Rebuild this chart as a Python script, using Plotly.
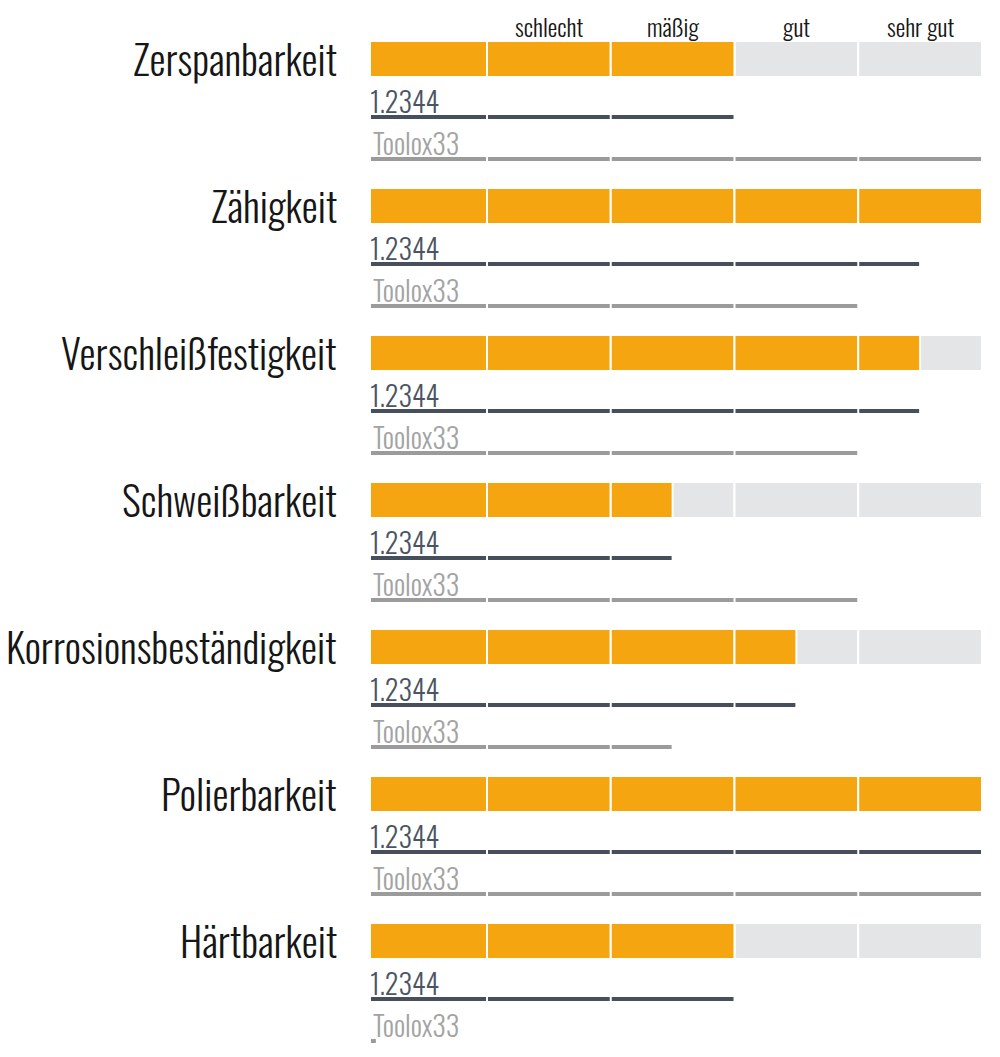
import plotly.graph_objects as go

properties = ["Zerspanbarkeit", "Zähigkeit", "Verschleißfestigkeit", "Schweißbarkeit",
              "Korrosionsbeständigkeit", "Polierbarkeit", "Härtbarkeit"]
rating_main = [3, 5, 4.5, 2.5, 3.5, 5, 3]
rating_12344 = [3, 4.5, 4.5, 2.5, 3.5, 5, 3]
rating_toolox = [5, 4, 4, 4, 2.5, 5, 0.11]
scale_labels = ["schlecht", "mäßig", "gut", "sehr gut"]
series_names = ["1.2344", "Toolox33"]

FONT = "Oswald, Roboto Condensed, sans-serif"
ORANGE = "#f5a50f"
BG = "#e4e5e6"
DARK = "#464f5b"
GREY = "#9b9b9b"
NSEG = 5
PX_X = 123.75   # pixels per unit
PX_Y = 147.0    # pixels per row
X0 = 1 - 116 / PX_X

off_line1 = 58 / PX_Y
off_line2 = 100 / PX_Y
gap = 2 / PX_X

fig = go.Figure()

for vals, color, name in [([NSEG] * len(properties), BG, "bg"), (rating_main, ORANGE, "main")]:
    ys, xs, bases = [], [], []
    for i, v in enumerate(vals):
        for k in range(NSEG):
            if v > k:
                ys.append(i)
                bases.append(k)
                xs.append(min(v, k + 1) - k)
    fig.add_trace(go.Bar(y=ys, x=xs, base=bases, orientation="h", width=36 / PX_Y,
                         marker=dict(color=color, line=dict(color="white", width=2)),
                         showlegend=False, hoverinfo="skip", name=name))

for vals, off, color in [(rating_12344, off_line1, DARK), (rating_toolox, off_line2, GREY)]:
    xs, ys = [], []
    for i, v in enumerate(vals):
        for k in range(NSEG):
            if v > k:
                xs += [k + gap / 2, min(v, k + 1) - gap / 2, None]
                ys += [i + off, i + off, None]
    fig.add_trace(go.Scatter(x=xs, y=ys, mode="lines", line=dict(color=color, width=4),
                             showlegend=False, hoverinfo="skip"))

ann = []
for i, p in enumerate(properties):
    ann.append(dict(x=0, xref="paper", y=i, yref="y", text=p, showarrow=False,
                    xanchor="right", yanchor="middle", xshift=-32, yshift=1,
                    font=dict(family=FONT, size=40.5, weight=300, color="#161616")))
    ann.append(dict(x=0, xref="paper", y=i + off_line1, yref="y", text=series_names[0],
                    showarrow=False, xanchor="left", yanchor="bottom", yshift=-6, xshift=-3,
                    font=dict(family=FONT, size=28, weight=300, color="#4a5462")))
    ann.append(dict(x=0, xref="paper", y=i + off_line2, yref="y", text=series_names[1],
                    showarrow=False, xanchor="left", yanchor="bottom", yshift=-6, xshift=0,
                    font=dict(family=FONT, size=28, weight=300, color="#a3a3a3")))
for k, lab in enumerate(scale_labels):
    ann.append(dict(x=k + 1.5, xref="x", y=-33 / PX_Y, yref="y", text=lab, showarrow=False,
                    xanchor="center", yanchor="middle",
                    font=dict(family=FONT, size=24, weight=300, color="#161616")))

fig.update_layout(
    width=1000, height=1057,
    margin=dict(l=371, r=18, t=0, b=0),
    paper_bgcolor="white", plot_bgcolor="white",
    barmode="overlay",
    xaxis=dict(range=[X0, NSEG], visible=False, fixedrange=True),
    yaxis=dict(range=[(1057 - 59) / PX_Y, -59 / PX_Y], visible=False, fixedrange=True),
    annotations=ann,
)

fig.write_html("out.html", config={"displayModeBar": False},
               post_script="document.body.style.margin='0';")
